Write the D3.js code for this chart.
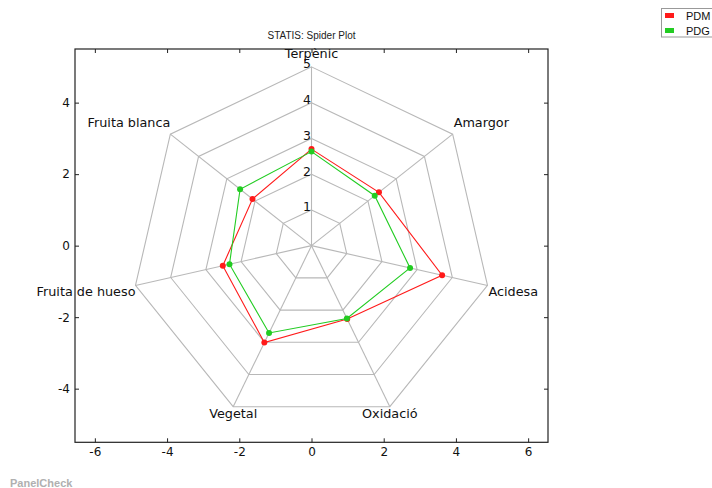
<!DOCTYPE html>
<html><head><meta charset="utf-8">
<script src="https://cdn.jsdelivr.net/npm/d3@7"></script>
<style>
html,body{margin:0;padding:0;background:#fff;}
svg{display:block;}
</style></head>
<body>
<svg id="chart" width="712" height="488"></svg>
<script>
const categories = ["Terpènic","Amargor","Acidesa","Oxidació","Vegetal","Fruita de hueso","Fruita blanca"];
const seriesNames = ["PDM","PDG"];
const PDM = [2.70, 2.39, 3.71, 2.28, 3.01, 2.52, 2.09];
const PDG = [2.63, 2.24, 2.80, 2.26, 2.71, 2.33, 2.53];
const ringLevels = [1,2,3,4,5];
const xTicks = [-6,-4,-2,0,2,4,6];
const yTicks = [-4,-2,0,2,4];
const title = "STATIS: Spider Plot";
const watermark = "PanelCheck";

const colors = {PDM:"#ff1a1a", PDG:"#22cc22"};
const series = [{name:"PDM", values:PDM}, {name:"PDG", values:PDG}];

const svg = d3.select("#chart");
const L=75, R=548, T=49, B=442.3;
const x = d3.scaleLinear().domain([-6.55,6.55]).range([L,R]);
const y = d3.scaleLinear().domain([-5.5,5.5]).range([B,T]);
const n = categories.length;
const ang = i => Math.PI/2 - i*2*Math.PI/n;
const pt = (r,i) => [x(r*Math.cos(ang(i))), y(r*Math.sin(ang(i)))];
const rMax = d3.max(ringLevels);

const g = svg.append("g");
// rings
g.selectAll("polygon.ring").data(ringLevels).join("polygon")
  .attr("points", r => d3.range(n).map(i => pt(r,i).join(",")).join(" "))
  .attr("fill","none").attr("stroke","#b8b8b8").attr("stroke-width",1.1);
// spokes
g.selectAll("line.spoke").data(d3.range(n)).join("line")
  .attr("x1", x(0)).attr("y1", y(0))
  .attr("x2", i => pt(rMax,i)[0]).attr("y2", i => pt(rMax,i)[1])
  .attr("stroke","#b8b8b8").attr("stroke-width",1.1);
// ring labels
g.selectAll("text.rl").data(ringLevels).join("text")
  .attr("x", x(0)-0.5).attr("y", r => y(r)+1.5)
  .attr("text-anchor","end")
  .attr("font-family","DejaVu Sans").attr("font-size",12.5).attr("fill","#111")
  .text(d => d);

// series
series.forEach(s => {
  const pts = s.values.map((v,i) => pt(v,i));
  g.append("path").attr("d", d3.line()(pts.concat([pts[0]])))
    .attr("fill","none").attr("stroke", colors[s.name]).attr("stroke-width",1.1);
  g.selectAll(null).data(pts).join("circle")
    .attr("cx", d=>d[0]).attr("cy", d=>d[1]).attr("r",3)
    .attr("fill", colors[s.name]);
});

// category labels
g.selectAll("text.cat").data(categories).join("text")
  .each(function(c,i){
    const a = ang(i), cs = Math.cos(a), sn = Math.sin(a);
    const [vx,vy] = pt(rMax,i);
    const anchor = cs > 0.5 ? "start" : (cs < -0.5 ? "end" : "middle");
    const by = sn > 0.01 ? vy - (3 + 6*sn) : vy + 10.8;
    d3.select(this).attr("x", vx + (anchor==="start"?1:0)).attr("y", by)
      .attr("text-anchor", anchor);
  })
  .attr("font-family","DejaVu Sans").attr("font-size",12.8).attr("fill","#111")
  .text(d => d);

// axes ticks
const fmt = d => String(d);
const axStyle = sel => {
  sel.select(".domain").remove();
  sel.selectAll("line").attr("stroke","#222");
  sel.selectAll("text").attr("font-family","DejaVu Sans").attr("font-size",12).attr("fill","#111");
};
svg.append("g").attr("transform",`translate(0,${B})`)
  .call(d3.axisBottom(x).tickValues(xTicks).tickFormat(fmt).tickSizeInner(-4).tickSizeOuter(0).tickPadding(5)).call(axStyle);
svg.append("g").attr("transform",`translate(0,${T})`)
  .call(d3.axisTop(x).tickValues(xTicks).tickFormat("").tickSizeInner(-4).tickSizeOuter(0)).call(axStyle);
svg.append("g").attr("transform",`translate(${L},0)`)
  .call(d3.axisLeft(y).tickValues(yTicks).tickFormat(fmt).tickSizeInner(-4).tickSizeOuter(0).tickPadding(5)).call(axStyle);
svg.append("g").attr("transform",`translate(${R},0)`)
  .call(d3.axisRight(y).tickValues(yTicks).tickFormat("").tickSizeInner(-4).tickSizeOuter(0)).call(axStyle);

// frame
svg.append("rect").attr("x",L).attr("y",T).attr("width",R-L).attr("height",B-T)
  .attr("fill","none").attr("stroke","#222").attr("stroke-width",1.2);

// title
svg.append("text").attr("x", x(0)).attr("y", 39)
  .attr("text-anchor","middle").attr("font-family","Liberation Sans, Arial")
  .attr("font-size",10).attr("fill","#222").text(title);

// legend
const lg = svg.append("g");
lg.append("rect").attr("x",661.5).attr("y",8.5).attr("width",70).attr("height",28.5)
  .attr("fill","#fff").attr("stroke","#999").attr("stroke-width",1);
seriesNames.forEach((nm,k) => {
  const yy = 15.5 + k*15;
  lg.append("rect").attr("x",665).attr("y",yy-2.5).attr("width",9).attr("height",5)
    .attr("fill", colors[nm]);
  lg.append("text").attr("x",686).attr("y",yy+4)
    .attr("font-family","Liberation Sans, Arial").attr("font-size",11).attr("fill","#111").text(nm);
});

// watermark
svg.append("text").attr("x",10).attr("y",486.5)
  .attr("font-family","Liberation Sans, Arial").attr("font-weight","bold")
  .attr("font-size",11).attr("fill","#b0b0b0").text(watermark);
</script>
</body></html>
